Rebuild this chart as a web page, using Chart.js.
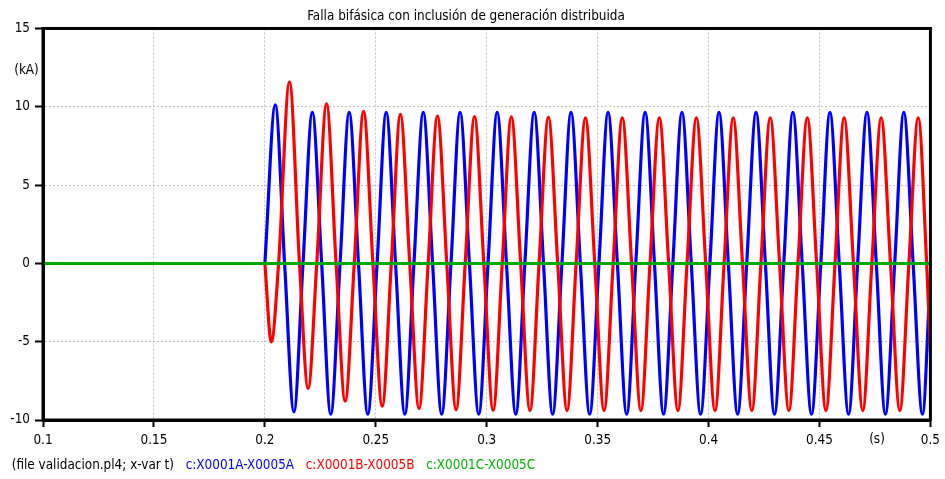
<!DOCTYPE html>
<html>
<head>
<meta charset="utf-8">
<title>Falla bifásica</title>
<script src="https://cdn.jsdelivr.net/npm/chart.js@4.4.1/dist/chart.umd.min.js"></script>
<style>
  html, body { margin: 0; padding: 0; background: #fff; }
</style>
</head>
<body>
<canvas id="chart" width="945" height="479"></canvas>
<script>
//Fonts (Tahoma look-alike)
const FONT = "'DejaVu Sans Condensed', 'DejaVu Sans', sans-serif";
const FONT_SIZE = 13.4;

//Axis ticks
const xTicks = [0.1, 0.15, 0.2, 0.25, 0.3, 0.35, 0.4, 0.45, 0.5];
const yTicks = [-10, -5, 0, 5, 10, 15];

//Legend line
const legendTexts = ["(file validacion.pl4; x-var t)", "c:X0001A-X0005A", "c:X0001B-X0005B", "c:X0001C-X0005C"];
const legendColors = ["#000000", "#0000ff", "#ff0000", "#00b400"];

//Phase A current (s, kA): peaks, zero crossings and troughs
//(zero before 0.2 s, hidden under phase C)
const blueTime = [
  0.2,
  0.2047, 0.2089, 0.2131, 0.2172,
  0.2214, 0.2256, 0.2297, 0.2339,
  0.2380, 0.2422, 0.2464, 0.2506,
  0.2547, 0.2589, 0.2631, 0.2672,
  0.2714, 0.2756, 0.2797, 0.2839,
  0.2880, 0.2922, 0.2964, 0.3006,
  0.3047, 0.3089, 0.3131, 0.3172,
  0.3214, 0.3256, 0.3297, 0.3339,
  0.3380, 0.3422, 0.3464, 0.3506,
  0.3547, 0.3589, 0.3631, 0.3672,
  0.3714, 0.3756, 0.3797, 0.3839,
  0.3880, 0.3922, 0.3964, 0.4006,
  0.4047, 0.4089, 0.4131, 0.4172,
  0.4214, 0.4256, 0.4297, 0.4339,
  0.4380, 0.4422, 0.4464, 0.4506,
  0.4547, 0.4589, 0.4631, 0.4672,
  0.4714, 0.4756, 0.4797, 0.4839,
  0.4880, 0.4922, 0.4964, 0.5
];
const blueCurrent = [
  0,
  10.12, 0, -9.48, 0,
  9.64, 0, -9.63, 0,
  9.64, 0, -9.63, 0,
  9.64, 0, -9.63, 0,
  9.64, 0, -9.63, 0,
  9.64, 0, -9.63, 0,
  9.64, 0, -9.63, 0,
  9.64, 0, -9.63, 0,
  9.64, 0, -9.63, 0,
  9.64, 0, -9.63, 0,
  9.64, 0, -9.63, 0,
  9.64, 0, -9.63, 0,
  9.64, 0, -9.63, 0,
  9.64, 0, -9.63, 0,
  9.64, 0, -9.63, 0,
  9.64, 0, -9.63, 0,
  9.64, 0, -9.63, 0,
  9.64, 0, -9.63, -0.6
];

//Phase B current (s, kA)
const redTime = [
  0.2,
  0.2029, 0.2062, 0.2111, 0.2156,
  0.2195, 0.2234, 0.2278, 0.2321,
  0.2362, 0.2403, 0.2445, 0.2487,
  0.2529, 0.2570, 0.2611, 0.2653,
  0.2695, 0.2736, 0.2778, 0.2820,
  0.2862, 0.2903, 0.2945, 0.2987,
  0.3029, 0.3070, 0.3111, 0.3153,
  0.3195, 0.3236, 0.3278, 0.3320,
  0.3362, 0.3403, 0.3445, 0.3487,
  0.3529, 0.3570, 0.3611, 0.3653,
  0.3695, 0.3736, 0.3778, 0.3820,
  0.3862, 0.3903, 0.3945, 0.3987,
  0.4029, 0.4070, 0.4111, 0.4153,
  0.4195, 0.4236, 0.4278, 0.4320,
  0.4362, 0.4403, 0.4445, 0.4487,
  0.4529, 0.4570, 0.4611, 0.4653,
  0.4695, 0.4736, 0.4778, 0.4820,
  0.4862, 0.4903, 0.4945, 0.4983,
  0.5
];
const redCurrent = [
  0,
  -5.01, 0, 11.60, 0,
  -7.99, 0, 10.18, 0,
  -8.80, 0, 9.71, 0,
  -9.12, 0, 9.52, 0,
  -9.27, 0, 9.41, 0,
  -9.35, 0, 9.37, 0,
  -9.38, 0, 9.35, 0,
  -9.40, 0, 9.32, 0,
  -9.40, 0, 9.30, 0,
  -9.40, 0, 9.30, 0,
  -9.40, 0, 9.30, 0,
  -9.40, 0, 9.30, 0,
  -9.40, 0, 9.30, 0,
  -9.40, 0, 9.30, 0,
  -9.40, 0, 9.30, 0,
  -9.40, 0, 9.30, 0,
  -9.40, 0, 9.30, 0,
  -9.40, 0, 9.30, 0,
  -5.6
];

//Phase C current (s, kA)
const greenTime = [0.1, 0.5];
const greenCurrent = [0, 0];

function toPoints(times, values) {
  return times.map((t, i) => ({ x: t, y: values[i] }));
}

Chart.defaults.font.family = FONT;
Chart.defaults.font.size = FONT_SIZE;
Chart.defaults.color = "#000";

//Frame on all four sides plus the unit labels
const frameAndUnits = {
  id: "frameAndUnits",
  afterDatasetsDraw(chart) {
    const { ctx, chartArea: a } = chart;
    ctx.save();
    ctx.strokeStyle = "#000";
    ctx.lineWidth = 3;
    ctx.strokeRect(a.left, a.top, a.right - a.left, a.bottom - a.top);
    ctx.fillStyle = "#000";
    ctx.font = FONT_SIZE + "px " + FONT;
    ctx.textAlign = "center";
    ctx.textBaseline = "middle";
    ctx.fillText("(kA)", 26.5, 71);
    ctx.fillText("(s)", 877, 440);
    ctx.restore();
  },
};

const gridStyle = {
  color: "#c4c4c4",
  lineWidth: 1,
  tickLength: 7,
  tickColor: "#000",
  tickWidth: 2,
};
const borderStyle = { display: true, color: "#000", width: 3, dash: [2, 2] };

const lineStyle = {
  borderWidth: 3.2,
  pointRadius: 0,
  fill: false,
  cubicInterpolationMode: "monotone",
  borderJoinStyle: "round",
};

new Chart(document.getElementById("chart"), {
  type: "line",
  data: {
    datasets: [
      { ...lineStyle, label: legendTexts[1], data: toPoints(blueTime, blueCurrent), borderColor: "#0000ff", order: 3 },
      { ...lineStyle, label: legendTexts[2], data: toPoints(redTime, redCurrent), borderColor: "#ff0000", order: 2 },
      { ...lineStyle, label: legendTexts[3], data: toPoints(greenTime, greenCurrent), borderColor: "#00a800", borderWidth: 3, order: 1 },
    ],
  },
  options: {
    responsive: false,
    animation: false,
    layout: { padding: { left: 0, right: 13, top: 0, bottom: -3.7 } },
    scales: {
      x: {
        type: "linear",
        min: 0.1,
        max: 0.5,
        afterBuildTicks: (s) => { s.ticks = xTicks.map((v) => ({ value: v })); },
        afterFit: (s) => { s.height = 34.3; },
        ticks: { padding: 5, maxRotation: 0, autoSkip: false, callback: (v) => String(v) },
        grid: gridStyle,
        border: borderStyle,
      },
      y: {
        type: "linear",
        min: -10,
        max: 15,
        afterBuildTicks: (s) => { s.ticks = yTicks.map((v) => ({ value: v })); },
        afterFit: (s) => { s.width = 43; },
        ticks: { padding: 5 },
        grid: { ...gridStyle, tickLength: 8 },
        border: borderStyle,
      },
    },
    plugins: {
      title: {
        display: true,
        text: "Falla bifásica con inclusión de generación distribuida",
        color: "#000",
        font: { size: FONT_SIZE, weight: "normal", lineHeight: 1.2 },
        padding: { top: 8, bottom: 4.4 },
      },
      legend: {
        position: "bottom",
        align: "start",
        labels: {
          boxWidth: 0.001,
          padding: 5,
          font: { size: FONT_SIZE },
          generateLabels: () =>
            legendTexts.map((text, i) => ({
              text: text,
              fontColor: legendColors[i],
              fillStyle: "rgba(0,0,0,0)",
              strokeStyle: "rgba(0,0,0,0)",
              lineWidth: 0,
              hidden: false,
              datasetIndex: i - 1,
            })),
        },
      },
      tooltip: { enabled: false },
    },
  },
  plugins: [frameAndUnits],
});
</script>
</body>
</html>
